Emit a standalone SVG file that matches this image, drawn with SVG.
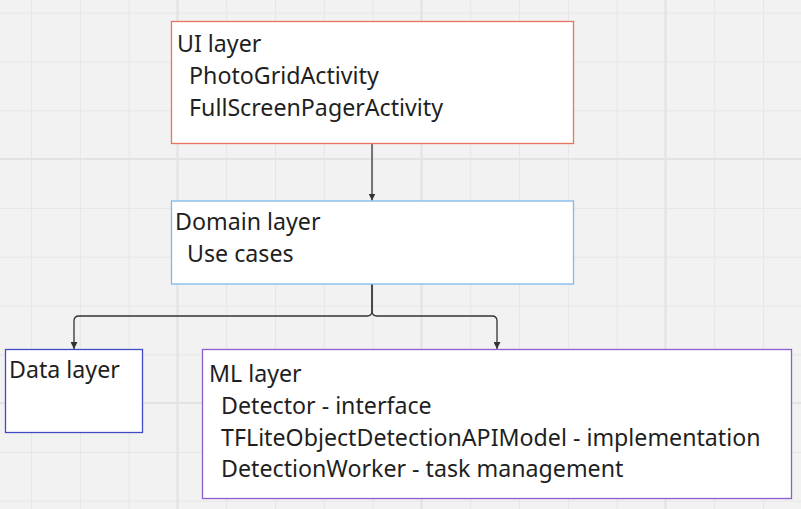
<svg xmlns="http://www.w3.org/2000/svg" width="801" height="509" viewBox="0 0 801 509">
  <defs>
    <pattern id="minor" x="31" y="12.7" width="48.8" height="48.8" patternUnits="userSpaceOnUse">
      <path d="M0.5 0V48.8M0 0.5H48.8" fill="none" stroke="#e6e6e6" stroke-width="1"/>
    </pattern>
    <marker id="arr" viewBox="0 0 10 10" refX="10" refY="5" markerWidth="7" markerHeight="7" orient="auto" markerUnits="userSpaceOnUse">
      <path d="M0 0L10 5L0 10z" fill="#333333"/>
    </marker>
    <style>
      .bg{fill:#f2f2f2}
      .major{stroke:#e3e3e3;stroke-width:2;fill:none}
      .box{fill:#ffffff;stroke-width:1.3}
      .t{font-family:"Noto Sans","Open Sans",sans-serif;font-size:23.2px;fill:#1f1f1f}
      .edge{fill:none;stroke:#333333;stroke-width:1.3;marker-end:url(#arr)}
    </style>
  </defs>
  <rect class="bg" width="801" height="509"/>
  <rect width="801" height="509" fill="url(#minor)"/>
  <path class="major" d="M177.4 0V509M421.4 0V509M665.4 0V509M0 159.1H801M0 403.1H801"/>

  <g id="connectors">
    <path class="edge" d="M372 143.5V200.5"/>
    <path class="edge" d="M372 284V311Q372 316 367 316H79Q74 316 74 321V349"/>
    <path class="edge" d="M372 284V311Q372 316 377 316H492Q497 316 497 321V349"/>
  </g>

  <g id="ui-layer">
    <rect class="box" x="171.5" y="21.5" width="402" height="122" stroke="#e8735f"/>
    <text class="t" x="177" y="52">UI layer</text>
    <text class="t" x="177" y="84" xml:space="preserve">  PhotoGridActivity</text>
    <text class="t" x="177" y="116" xml:space="preserve">  FullScreenPagerActivity</text>
  </g>

  <g id="domain-layer">
    <rect class="box" x="171.5" y="201" width="402" height="83" stroke="#7db9ec"/>
    <text class="t" x="175" y="230">Domain layer</text>
    <text class="t" x="175" y="262" xml:space="preserve">  Use cases</text>
  </g>

  <g id="data-layer">
    <rect class="box" x="5.5" y="349.5" width="137" height="83" stroke="#3f4cc4"/>
    <text class="t" x="9" y="378">Data layer</text>
  </g>

  <g id="ml-layer">
    <rect class="box" x="202.5" y="349.5" width="589" height="149" stroke="#8b5ed0"/>
    <text class="t" x="209" y="382">ML layer</text>
    <text class="t" x="209" y="414" xml:space="preserve">  Detector - interface</text>
    <text class="t" x="209" y="446" xml:space="preserve">  TFLiteObjectDetectionAPIModel - implementation</text>
    <text class="t" x="209" y="477" xml:space="preserve">  DetectionWorker - task management</text>
  </g>
</svg>
